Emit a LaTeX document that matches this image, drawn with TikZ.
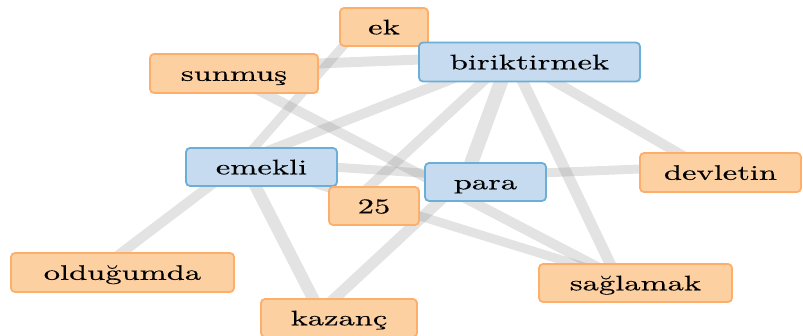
\documentclass[tikz,border=0pt]{standalone}
\usepackage{fontspec}
\newfontfamily\wordfamily{lmroman10-regular.otf}[FakeStretch=1.55, FakeBold=0.3]
\definecolor{ofill}{HTML}{FDD0A2}
\definecolor{oline}{HTML}{FDAE6B}
\definecolor{bfill}{HTML}{C6DBEF}
\definecolor{bline}{HTML}{6BAED6}
\newcommand\wordfont{\wordfamily\fontsize{21}{24}\selectfont}
\pgfdeclarelayer{bg}
\pgfsetlayers{bg,main}
\begin{document}
\begin{tikzpicture}[x=1pt,y=-1pt,
  word/.style={rectangle, rounded corners=4pt, line width=1.8pt, inner sep=0pt,
    text height=18pt, text depth=3.4pt, font=\wordfont, align=center},
  onode/.style={word, fill=ofill, draw=oline},
  bnode/.style={word, fill=bfill, draw=bline},
  link/.style={line width=#1pt, draw=black!50, draw opacity=0.22},
  link/.default=10,
  ep/.style={shift={(-19,-6)}}]
\useasboundingbox (0,0) rectangle (803,336);
% nodes
\node[onode, minimum width=88pt,  minimum height=38pt] (ek)   at (384,27)     {ek};
\node[onode, minimum width=168pt, minimum height=39pt] (sun)  at (234,73.5)   {sunmuş};
\node[bnode, minimum width=221pt, minimum height=39pt] (bir)  at (529.5,62)   {biriktirmek};
\node[bnode, minimum width=151pt, minimum height=38pt] (eme)  at (261.5,167)  {emekli};
\node[bnode, minimum width=121pt, minimum height=38pt] (para) at (485.5,182)  {para};
\node[onode, minimum width=90pt,  minimum height=38pt] (yirmi) at (374,206)   {25};
\node[onode, minimum width=161pt, minimum height=39pt] (dev)  at (720.5,172.5) {devletin};
\node[onode, minimum width=223pt, minimum height=39pt] (old)  at (122.5,272.5) {olduğumda};
\node[onode, minimum width=156pt, minimum height=38pt] (kaz)  at (339,318)    {kazanç};
\node[onode, minimum width=193pt, minimum height=38pt] (sag)  at (635.5,283)  {sağlamak};
% edges
\begin{pgfonlayer}{bg}
\draw[link=9]  ([ep]ek.center)   -- ([ep]eme.center);
\draw[link=10] ([ep]eme.center)  -- ([ep]old.center);
\draw[link=12] ([ep]eme.center)  -- ([ep]kaz.center);
\draw[link=9]  ([ep]eme.center)  -- ([ep]para.center);
\draw[link=9]  ([ep]eme.center)  -- ([ep]sag.center);
\draw[link=10] ([ep]bir.center)  -- ([ep]eme.center);
\draw[link=10] ([ep]bir.center)  -- ([ep]sun.center);
\draw[link=10] ([ep]bir.center)  -- ([ep]yirmi.center);
\draw[link=14] ([ep]bir.center)  -- ([ep]para.center);
\draw[link=11] ([ep]bir.center)  -- ([ep]sag.center);
\draw[link=10] ([ep]bir.center)  -- ([ep]dev.center);
\draw[link=10] ([ep]sun.center)  -- ([ep]sag.center);
\draw[link=11] ([ep]kaz.center)  -- ([ep]para.center);
\draw[link=9]  ([ep]para.center) -- ([ep]dev.center);
\end{pgfonlayer}
\end{tikzpicture}
\end{document}
